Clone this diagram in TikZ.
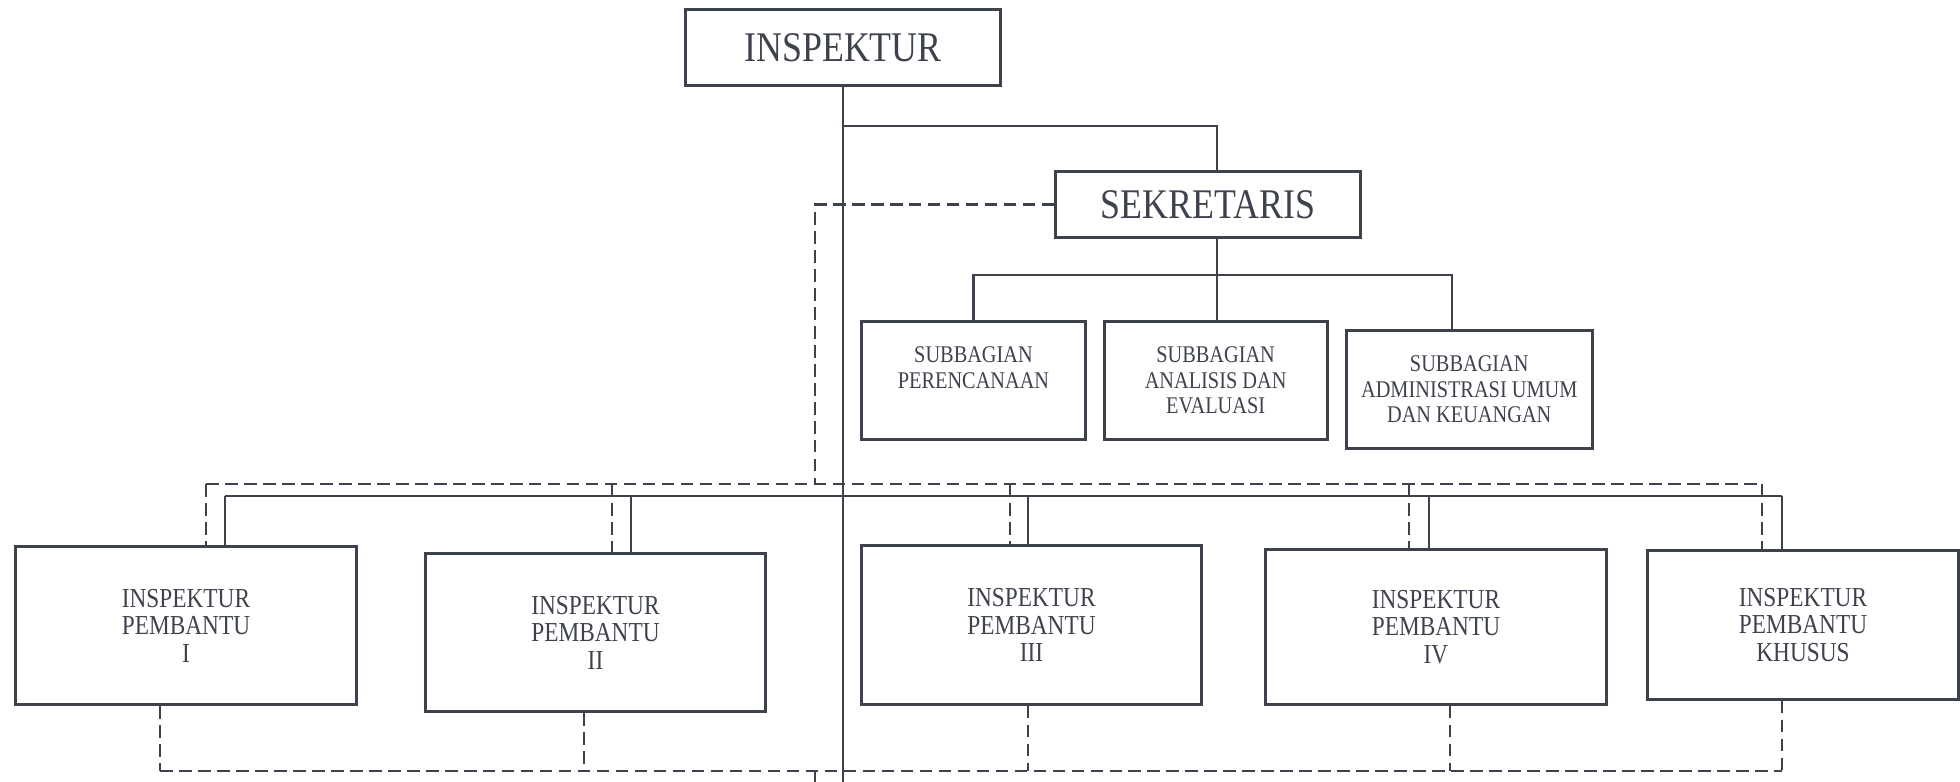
\documentclass[tikz,border=0pt]{standalone}
\usepackage{fontspec}
\setmainfont{Liberation Serif}[FakeStretch=0.85]
\usetikzlibrary{positioning}
\definecolor{ink}{RGB}{62,66,76}
\tikzset{
  box/.style={draw=ink, line width=0.85pt, text=ink, align=center, inner sep=2pt},
  bigbox/.style={box, font=\fontsize{12}{14}\selectfont},
  subbox/.style={box, minimum width=2.23cm, minimum height=1.17cm, font=\fontsize{6.8}{7.3}\selectfont},
  ipbox/.style={box, minimum width=3.4cm, minimum height=1.58cm, font=\fontsize{7.8}{7.8}\selectfont},
  ln/.style={draw=ink, line width=0.6pt},
  dl/.style={ln, dash pattern=on 3.6pt off 1.8pt},
}

\begin{document}
\begin{tikzpicture}[x=0.01cm, y=-0.01cm]
      \useasboundingbox (0,0) rectangle (1960,781);

      \node[bigbox, minimum width=3.14cm, minimum height=0.75cm] (insp) at (843,47.5) {INSPEKTUR};
      \node[bigbox, minimum width=3.04cm, minimum height=0.65cm] (sek) at (1208,204.5) {SEKRETARIS};

      \node[subbox] (sp) at (973.5,380.5) {SUBBAGIAN\\PERENCANAAN\\\mbox{}};
      \node[subbox, right=0.16cm of sp] (sa) {SUBBAGIAN\\ANALISIS DAN\\EVALUASI};
      \node[subbox, minimum width=2.46cm, right=0.16cm of sa, yshift=-0.09cm] (su) {SUBBAGIAN\\ADMINISTRASI UMUM\\DAN KEUANGAN};

      \node[ipbox] (ip1) at (186,625.5) {INSPEKTUR\\PEMBANTU\\I};
      \node[ipbox] (ip2) at (595.5,632.5) {INSPEKTUR\\PEMBANTU\\II};
      \node[ipbox] (ip3) at (1031.5,625) {INSPEKTUR\\PEMBANTU\\III};
      \node[ipbox, minimum height=1.54cm] (ip4) at (1436,627) {INSPEKTUR\\PEMBANTU\\IV};
      \node[ipbox, minimum width=3.1cm, minimum height=1.48cm] (ipk) at (1803,625) {INSPEKTUR\\PEMBANTU\\KHUSUS};

      \coordinate (bot) at (845,800);
      \coordinate (j1) at (0,126);
      \coordinate (k) at (1217,0);
      \coordinate (u) at (1452,275);
      \coordinate (s1) at (225,496);
      \coordinate (s2) at (631,496);
      \coordinate (s3) at (1028,496);
      \coordinate (s4) at (1429,496);
      \coordinate (s5) at (1782,496);
      \coordinate (d0) at (815,484);
      \coordinate (d1) at (206,484);
      \coordinate (d2) at (612,484);
      \coordinate (d3) at (1010,484);
      \coordinate (d4) at (1409,484);
      \coordinate (d5) at (1762,484);
      \coordinate (e0) at (815,771);
      \coordinate (e1) at (160,771);
      \coordinate (e2) at (584,771);
      \coordinate (e3) at (1028,771);
      \coordinate (e4) at (1450,771);
      \coordinate (e5) at (1782,771);
      \coordinate (bot2) at (815,800);

      \draw[ln] (insp.south) -- (insp.south |- bot);
      \draw[ln] (insp.south |- j1) -| (k |- sek.north);
      \draw[ln] (k |- sek.south) -- (k |- sa.north);
      \draw[ln] (sp.north) |- (u) -- (u |- su.north);

      \draw[ln] (s1) -- (s5);
      \draw[ln] (s1) -- (s1 |- ip1.north);
      \draw[ln] (s2) -- (s2 |- ip2.north);
      \draw[ln] (s3) -- (s3 |- ip3.north);
      \draw[ln] (s4) -- (s4 |- ip4.north);
      \draw[ln] (s5) -- (s5 |- ipk.north);

      \draw[dl] (sek.west) -| (d0);
      \draw[dl] (d1) -- (d5);
      \draw[dl] (d1) -- (d1 |- ip1.north);
      \draw[dl] (d2) -- (d2 |- ip2.north);
      \draw[dl] (d3) -- (d3 |- ip3.north);
      \draw[dl] (d4) -- (d4 |- ip4.north);
      \draw[dl] (d5) -- (d5 |- ipk.north);

      \draw[dl] (e1 |- ip1.south) -- (e1);
      \draw[dl] (e2 |- ip2.south) -- (e2);
      \draw[dl] (e3 |- ip3.south) -- (e3);
      \draw[dl] (e4 |- ip4.south) -- (e4);
      \draw[dl] (e5 |- ipk.south) -- (e5);
      \draw[dl] (e1) -- (e5);
      \draw[dl] (e0) -- (bot2);
\end{tikzpicture}
\end{document}
